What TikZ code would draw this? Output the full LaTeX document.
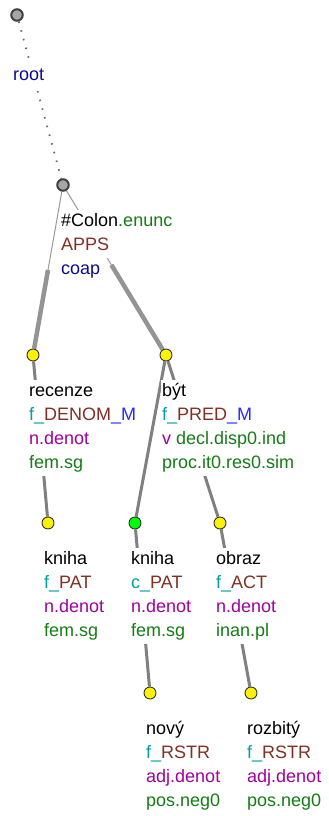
\documentclass[tikz,border=0pt]{standalone}
\usepackage{fontspec}
\setmainfont{Liberation Sans}
\usepackage{xcolor}
\usepackage{tikz}
\usetikzlibrary{calc,backgrounds}

\definecolor{tteal}{RGB}{0,160,160}
\definecolor{tbrown}{RGB}{130,48,34}
\definecolor{tblue}{RGB}{40,40,255}
\definecolor{tnavy}{RGB}{10,10,150}
\definecolor{tpurple}{RGB}{160,0,160}
\definecolor{tgreen}{RGB}{20,125,20}

\tikzset{
  tnode/.style={circle,draw=black!80,line width=0.9pt,minimum size=12pt,inner sep=0pt,fill=yellow},
  rootnode/.style={circle,draw=black!75,line width=2pt,minimum size=11.5pt,inner sep=0pt,fill=black!35},
  tlabel/.style={anchor=base west,fill=white,inner xsep=1pt,inner ysep=2pt,text height=14pt,text depth=6pt,font=\fontsize{18}{24}\selectfont},
  edge/.style={draw=black!50,line width=3pt},
  thickedge/.style={draw=black!42,line width=4.5pt},
  thinedge/.style={draw=black!40,line width=1pt},
  rootedge/.style={draw=black!60,line width=1.8pt,dash pattern=on 1.5pt off 7.5pt}
}

\begin{document}
\begin{tikzpicture}[x=1pt,y=-1pt]
\useasboundingbox (0,0) rectangle (329,816);
% tree nodes
\node[rootnode] (root) at (17,15) {};
\node[rootnode] (colon) at (63,185) {};
\node[tnode] (recenze) at (33,355) {};
\node[tnode] (byt) at (166,355) {};
\node[tnode] (knihaA) at (48,523) {};
\node[tnode,fill=green] (knihaB) at (135,523) {};
\node[tnode] (obraz) at (220,523) {};
\node[tnode] (novy) at (150,693) {};
\node[tnode] (rozbity) at (251,693) {};
% labels
\node[tlabel] (lroot) at (12,80) {\color{tnavy}root};
\node[tlabel] (lcolon1) at (60,226) {\#Colon{\color{tgreen}.enunc}};
\node[tlabel] (lcolon2) at (60,250) {\color{tbrown}APPS};
\node[tlabel] (lcolon3) at (60,274) {\color{tnavy}coap};
\node[tlabel] (lrec1) at (28,396) {recenze};
\node[tlabel] (lrec2) at (28,420) {{\color{tteal}f\_}{\color{tbrown}DENOM}{\color{tblue}\_M}};
\node[tlabel] (lrec3) at (28,444) {\color{tpurple}n.denot};
\node[tlabel] (lrec4) at (28,468) {\color{tgreen}fem.sg};
\node[tlabel] (lbyt1) at (161,396) {být};
\node[tlabel] (lbyt2) at (161,420) {{\color{tteal}f\_}{\color{tbrown}PRED}{\color{tblue}\_M}};
\node[tlabel] (lbyt3) at (161,444) {{\color{tpurple}v} {\color{tgreen}decl.disp0.ind}};
\node[tlabel] (lbyt4) at (161,468) {\color{tgreen}proc.it0.res0.sim};
\node[tlabel] (lkniA1) at (43,564) {kniha};
\node[tlabel] (lkniA2) at (43,588) {{\color{tteal}f\_}{\color{tbrown}PAT}};
\node[tlabel] (lkniA3) at (43,612) {\color{tpurple}n.denot};
\node[tlabel] (lkniA4) at (43,636) {\color{tgreen}fem.sg};
\node[tlabel] (lkniB1) at (130,564) {kniha};
\node[tlabel] (lkniB2) at (130,588) {{\color{tteal}c\_}{\color{tbrown}PAT}};
\node[tlabel] (lkniB3) at (130,612) {\color{tpurple}n.denot};
\node[tlabel] (lkniB4) at (130,636) {\color{tgreen}fem.sg};
\node[tlabel] (lobr1) at (215,564) {obraz};
\node[tlabel] (lobr2) at (215,588) {{\color{tteal}f\_}{\color{tbrown}ACT}};
\node[tlabel] (lobr3) at (215,612) {\color{tpurple}n.denot};
\node[tlabel] (lobr4) at (215,636) {\color{tgreen}inan.pl};
\node[tlabel] (lnov1) at (145,734) {nový};
\node[tlabel] (lnov2) at (145,758) {{\color{tteal}f\_}{\color{tbrown}RSTR}};
\node[tlabel] (lnov3) at (145,782) {\color{tpurple}adj.denot};
\node[tlabel] (lnov4) at (145,806) {\color{tgreen}pos.neg0};
\node[tlabel] (lroz1) at (246,734) {rozbitý};
\node[tlabel] (lroz2) at (246,758) {{\color{tteal}f\_}{\color{tbrown}RSTR}};
\node[tlabel] (lroz3) at (246,782) {\color{tpurple}adj.denot};
\node[tlabel] (lroz4) at (246,806) {\color{tgreen}pos.neg0};
% edges, behind the labels
\begin{pgfonlayer}{background}
\coordinate (mrec) at ($(colon)!0.5!(recenze)$);
\coordinate (mbyt) at ($(colon)!0.47!(byt)$);
\draw[rootedge] (root) -- (colon);
\draw[thinedge] (colon) -- (mrec);
\draw[thickedge] (mrec) -- (recenze);
\draw[thinedge] (colon) -- (mbyt);
\draw[thickedge] (mbyt) -- (byt);
\draw[edge] (recenze) -- (knihaA);
\draw[edge] (byt) -- (knihaB);
\draw[edge] (byt) -- (obraz);
\draw[edge] (knihaB) -- (novy);
\draw[edge] (obraz) -- (rozbity);
\end{pgfonlayer}
\end{tikzpicture}
\end{document}
